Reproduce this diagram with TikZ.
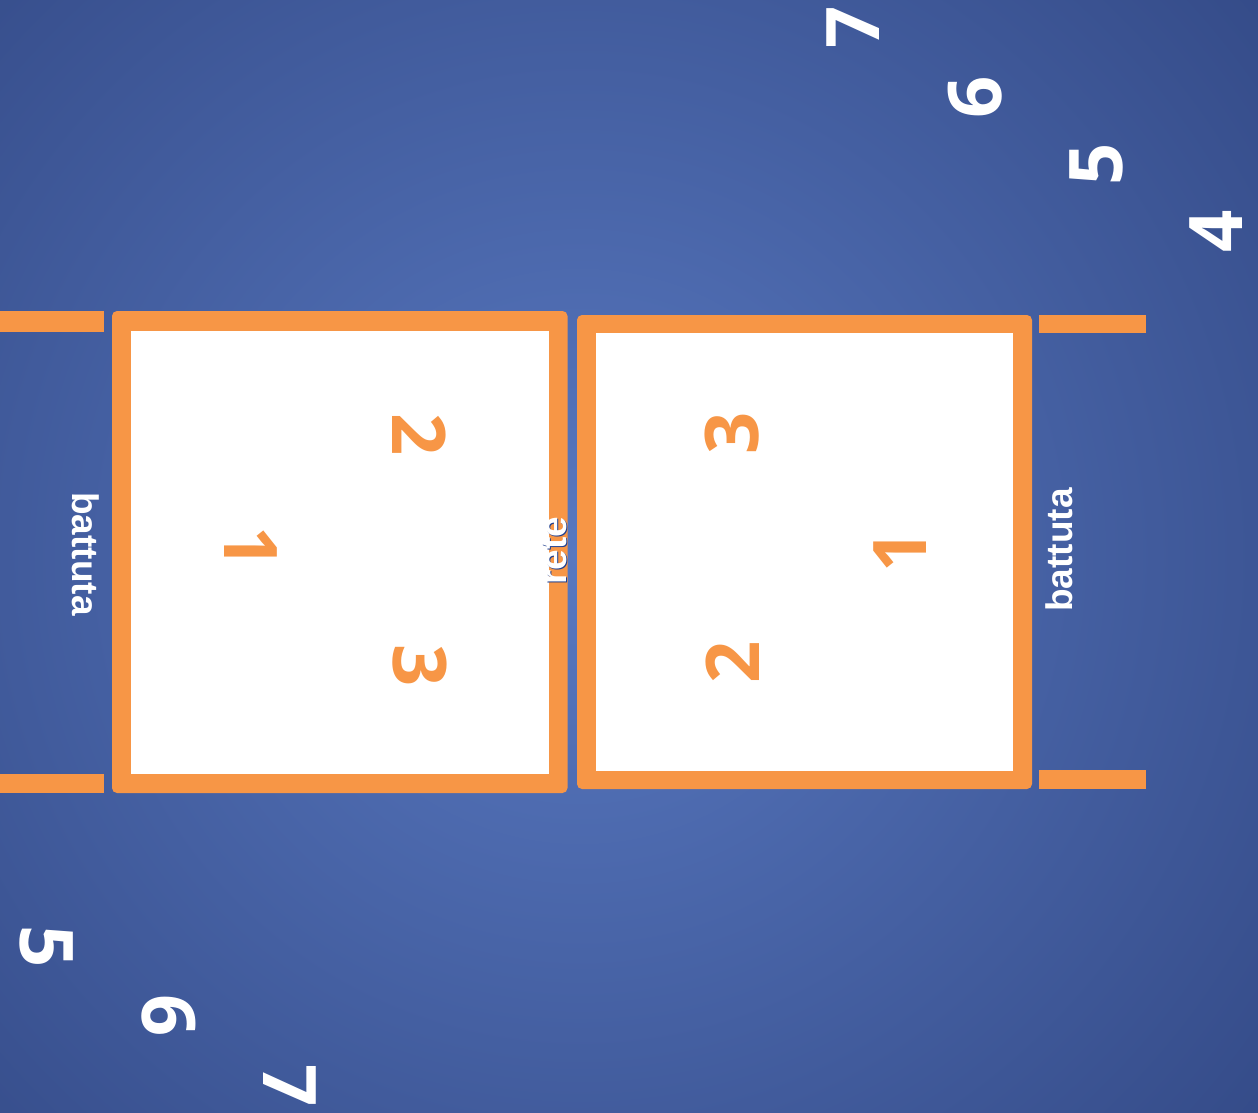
\documentclass[tikz,border=0pt]{standalone}
\usepackage{fontspec}
\setmainfont{Liberation Sans}
\newfontfamily\digitfont{Open Sans}
\definecolor{courtorange}{HTML}{F79646}
\definecolor{bgin}{HTML}{5878C0}
\definecolor{bgout}{HTML}{2A3E78}
\definecolor{outlineblue}{HTML}{1F3F8F}
\tikzset{
  digitbase/.style={font=\digitfont\bfseries\fontsize{74}{74}\selectfont, inner sep=0pt, anchor=center},
  ldigit/.style={digitbase, text=courtorange, rotate=-90},
  rdigit/.style={digitbase, text=courtorange, rotate=90},
  wdigitup/.style={digitbase, text=white, rotate=90},
  wdigitdown/.style={digitbase, text=white, rotate=-90},
  labeltext/.style={font=\bfseries\fontsize{37}{37}\selectfont, text=white, inner sep=0pt, anchor=base},
  stripe/.style={fill=courtorange},
}
\begin{document}
\begin{tikzpicture}[x=1pt,y=-1pt]
  \useasboundingbox (0,0) rectangle (1258,1112);
  \begin{scope}
    \clip (0,0) rectangle (1258,1112);
    \shade[inner color=bgin, outer color=bgout] (580,556) circle (1150);
  \end{scope}
  % service line stripes
  \fill[stripe] (0,311) rectangle (104,332);
  \fill[stripe] (0,774) rectangle (104,793);
  \fill[stripe] (1039,315) rectangle (1146,333);
  \fill[stripe] (1039,770) rectangle (1146,789);
  % left court
  \fill[courtorange, rounded corners=5pt] (112,311) rectangle (567.5,793);
  \fill[white] (131,331) rectangle (549,774);
  % right court
  \fill[courtorange, rounded corners=5pt] (577,315) rectangle (1032,789);
  \fill[white] (596,333) rectangle (1013,771);
  % labels
  \node[labeltext, rotate=-90] (battL) at (72,554) {battuta};
  \node[labeltext, rotate=90] (battR) at (1072,550) {battuta};
  \node[labeltext, rotate=90, text=outlineblue] (reteshadow) at (567.5,552) {rete};
  \node[labeltext, rotate=90] (rete) at (566,551) {rete};
  % left court digits
  \node[ldigit] (L2) at (419,435) {2};
  \node[ldigit] (L1) at (251,548) {1};
  \node[ldigit] (L3) at (420,666) {3};
  % right court digits
  \node[rdigit] (R3) at (732,433) {3};
  \node[rdigit] (R1) at (900,551) {1};
  \node[rdigit] (R2) at (733,662) {2};
  % outer digits top right
  \node[wdigitup] (T7) at (853,27) {7};
  \node[wdigitup] (T6) at (975,97) {6};
  \node[wdigitup] (T5) at (1096,164) {5};
  \node[wdigitup] (T4) at (1216,231) {4};
  % outer digits bottom left
  \node[wdigitdown] (B5) at (47,947) {5};
  \node[wdigitdown] (B6) at (169,1016) {6};
  \node[wdigitdown] (B7) at (290,1086) {7};
\end{tikzpicture}
\end{document}
